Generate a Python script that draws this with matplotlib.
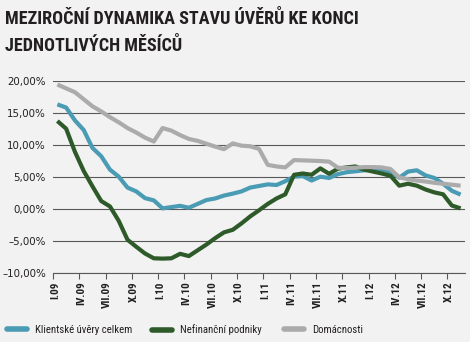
import numpy as np
import matplotlib
matplotlib.use("Agg")
import matplotlib.pyplot as plt
from matplotlib.lines import Line2D
from matplotlib import font_manager
from matplotlib.font_manager import FontProperties

# Year-on-year growth of loan stock at month end, Jan 2009 - Nov 2012 (%)
klientske_uvery = [16.3, 15.8, 13.8, 12.3, 9.5, 8.2, 6.1, 5.0, 3.3, 2.7, 1.65, 1.3,
                   0.05, 0.25, 0.45, 0.15, 0.75, 1.35, 1.6, 2.05, 2.35, 2.7, 3.3, 3.55,
                   3.8, 3.7, 4.3, 5.0, 5.1, 4.4, 5.0, 4.8, 5.4, 5.7, 5.85, 6.0,
                   6.1, 6.1, 5.75, 4.85, 5.8, 6.0, 5.2, 4.8, 3.9, 2.8, 2.2]
nefinancni_podniky = [13.7, 12.5, 8.9, 5.9, 3.5, 1.2, 0.35, -1.9, -4.85, -5.95, -7.0, -7.75,
                      -7.8, -7.75, -7.05, -7.4, -6.5, -5.6, -4.6, -3.7, -3.3, -2.3, -1.2, -0.25,
                      0.75, 1.6, 2.25, 5.3, 5.5, 5.3, 6.3, 5.45, 6.25, 6.45, 6.6, 6.1,
                      5.8, 5.5, 5.15, 3.6, 3.9, 3.6, 3.0, 2.55, 2.25, 0.5, 0.05]
domacnosti = [19.4, 18.8, 18.2, 17.1, 16.0, 15.2, 14.3, 13.5, 12.6, 11.9, 11.1, 10.5,
              12.6, 12.2, 11.5, 10.9, 10.6, 10.15, 9.7, 9.3, 10.2, 9.85, 9.75, 9.35,
              6.85, 6.6, 6.45, 7.6, 7.55, 7.5, 7.45, 7.35, 6.4, 6.35, 6.4, 6.5,
              6.5, 6.45, 6.2, 4.9, 4.6, 4.4, 4.25, 4.05, 3.9, 3.75, 3.6]

series_names = ["Klientské úvěry celkem", "Nefinanční podniky", "Domácnosti"]
month_labels = ["I.09", "IV.09", "VII.09", "X.09", "I.10", "IV.10", "VII.10", "X.10",
                "I.11", "IV.11", "VII.11", "X.11", "I.12", "IV.12", "VII.12", "X.12"]
y_values = [-10, -5, 0, 5, 10, 15, 20]
title_lines = ["MEZIROČNÍ DYNAMIKA STAVU ÚVĚRŮ KE KONCI", "JEDNOTLIVÝCH MĚSÍCŮ"]

BG = "#F2F2F2"
GRID = "#595959"
TEXT = "#231F20"
COLORS = ["#4A9BB4", "#2E5A2A", "#ABABAB"]


def _weight(w):
    if isinstance(w, str):
        return font_manager.weight_dict.get(w, 400)
    return int(w)


def _is_narrow(f):
    s = f.stretch
    if isinstance(s, str):
        if s in ("condensed", "semi-condensed", "extra-condensed", "ultra-condensed"):
            return True
    elif isinstance(s, (int, float)) and s < 500:
        return True
    return any(k in f.name for k in ("Condensed", "Narrow"))


def narrow_font(bold):
    """Pick a condensed face from the installed fonts, or None."""
    prefs = ["Liberation Sans Narrow", "Roboto Condensed", "Open Sans Condensed",
             "Noto Sans", "DejaVu Sans", "Roboto", "Open Sans"]
    cands = [f for f in font_manager.fontManager.ttflist if _is_narrow(f)]
    for name in prefs:
        for f in cands:
            if f.name == name and f.style == "normal":
                w = _weight(f.weight)
                if (bold and w >= 600) or (not bold and 350 <= w <= 500):
                    return FontProperties(fname=f.fname)
    return None


fp_bold = narrow_font(True) or FontProperties(family="DejaVu Sans", weight="bold")
fp_reg = narrow_font(False) or FontProperties(family="DejaVu Sans")

W, H = 470, 342
fig = plt.figure(figsize=(W / 100, H / 100), dpi=100, facecolor=BG)
renderer = fig.canvas.get_renderer()


def fitted_size(text, fp, target_px, start=10.0):
    t = fig.text(0, 0, text, fontproperties=fp, fontsize=start)
    w = t.get_window_extent(renderer).width
    t.remove()
    return start * target_px / w


ax = fig.add_axes([53 / W, (H - 272.7) / H, 412 / W, 192 / H])
ax.set_facecolor(BG)

x = np.arange(len(domacnosti))
for vals, col in zip([klientske_uvery, nefinancni_podniky, domacnosti], COLORS):
    ax.plot(x, vals, color=col, lw=3.0, solid_joinstyle="round", solid_capstyle="butt",
            zorder=3)

ax.set_xlim(-0.5, len(domacnosti) - 0.5)
ax.set_ylim(-10, 20)

ax.set_yticks(y_values)
ax.set_yticklabels([f"{v:.2f}".replace(".", ",").replace("-", "\u2013") + "%" for v in y_values],
                   fontsize=7.4, color=TEXT)
ax.tick_params(axis="y", length=0, pad=5)
ax.yaxis.grid(True, color=GRID, lw=0.8)
ax.set_axisbelow(True)

xl_size = min(8.5, fitted_size("VII.09", fp_bold, 27))
label_pos = [3 * k - 0.3 for k in range(len(month_labels))]
ax.set_xticks(label_pos)
ax.set_xticklabels(month_labels, rotation=90, color=TEXT)
for lab in ax.get_xticklabels():
    lab.set_fontproperties(fp_bold)
    lab.set_fontsize(xl_size)
ax.set_xticks([3 * k - 0.5 for k in range(len(month_labels))], minor=True)
ax.tick_params(axis="x", which="major", length=0, pad=6.5)
ax.tick_params(axis="x", which="minor", length=4, width=0.8, color=GRID, direction="out")

for side in ["top", "right", "left"]:
    ax.spines[side].set_visible(False)
ax.spines["bottom"].set_color(GRID)
ax.spines["bottom"].set_linewidth(0.8)

title_size = fitted_size(title_lines[0], fp_bold, 352)
for line, base in zip(title_lines, [24, 51]):
    fig.text(5 / W, 1 - base / H, line, fontproperties=fp_bold, fontsize=title_size,
             color=TEXT, ha="left", va="baseline")

# one legend entry per fixed slot along the bottom
fs = max(6.0, min(9.0, fitted_size(series_names[0], fp_reg, 96)))
leg_fp = fp_reg.copy()
leg_fp.set_size(fs)
px = fs * 100 / 72
for name, col, left in zip(series_names, COLORS, [7, 152, 284]):
    handle = Line2D([], [], color=col, lw=4, solid_capstyle="round")
    fig.legend([handle], [name], loc="center left", bbox_to_anchor=(left / W, 1 - 330 / H),
               frameon=False, prop=leg_fp, labelcolor=TEXT,
               handlelength=20 / px, handletextpad=8 / px,
               borderpad=0, borderaxespad=0)

fig.savefig("out.png", dpi=100, facecolor=BG)
